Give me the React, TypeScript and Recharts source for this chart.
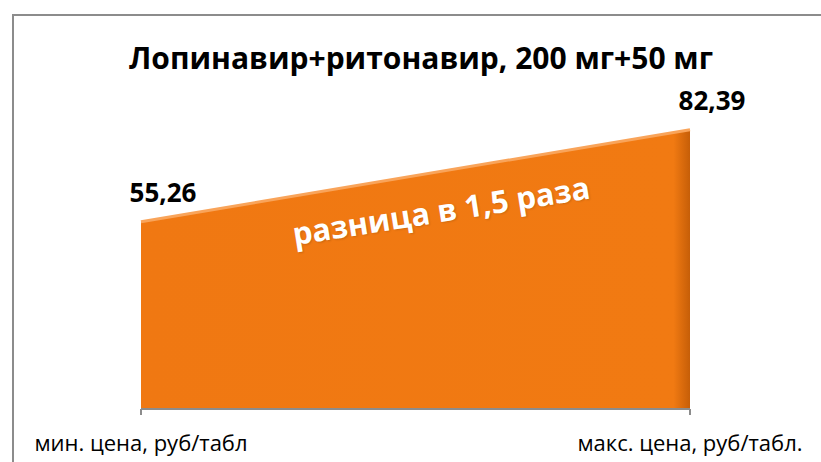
import { AreaChart, Area, XAxis, YAxis, LabelList } from "recharts"

const categories = ["мин. цена, руб/табл", "макс. цена, руб/табл."]
const prices = [55.26, 82.39]
const priceLabels = ["55,26", "82,39"]

const data = categories.map((name, i) => ({ name, price: prices[i], label: priceLabels[i] }))

const FONT = "'Open Sans', 'Noto Sans', sans-serif"

function ValueLabel(props: any) {
  const { x, y, index } = props
  return (
    <text
      x={x + 22}
      y={y - 30}
      textAnchor="middle"
      dominantBaseline="central"
      fontFamily={FONT}
      fontWeight={700}
      fontSize={26}
      fill="#000"
    >
      {priceLabels[index]}
    </text>
  )
}

export default function App() {
  return (
    <div
      style={{
        position: "absolute",
        left: 0,
        top: 0,
        width: 821,
        height: 462,
        overflow: "hidden",
        background: "#fff",
        fontFamily: FONT,
      }}
    >
      {/* chart frame */}
      <div
        style={{
          position: "absolute",
          left: 12,
          top: 14,
          width: 840,
          height: 480,
          border: "2px solid #8c8c8c",
        }}
      />
      <div
        style={{
          position: "absolute",
          left: 0,
          width: 842,
          top: 39,
          textAlign: "center",
          fontWeight: 700,
          fontSize: 30,
          lineHeight: "38px",
          color: "#000",
        }}
      >
        Лопинавир+ритонавир, 200 мг+50 мг
      </div>
      <div style={{ position: "absolute", left: 0, top: 0 }}>
        <AreaChart
          width={821}
          height={462}
          data={data}
          margin={{ top: 70, right: 131, left: 141, bottom: 23 }}
        >
          <defs>
            <linearGradient id="orangeFill" x1="0" y1="0" x2="1" y2="0">
              <stop offset="0%" stopColor="#F07812" />
              <stop offset="97%" stopColor="#F17A12" />
              <stop offset="100%" stopColor="#C65E08" />
            </linearGradient>
          </defs>
          <XAxis
            dataKey="name"
            interval={0}
            height={30}
            padding={{ left: 0, right: 0 }}
            axisLine={{ stroke: "#8c8c8c", strokeWidth: 2 }}
            tickLine={{ stroke: "#8c8c8c", strokeWidth: 2 }}
            tickSize={6}
            tick={{ fill: "#000", fontSize: 22, fontFamily: FONT }}
            tickMargin={20}
          />
          <YAxis hide domain={[0, 100]} />
          <Area
            type="linear"
            dataKey="price"
            stroke="#F9A45A"
            strokeWidth={3}
            fill="url(#orangeFill)"
            fillOpacity={1}
            isAnimationActive={false}
          >
            <LabelList dataKey="label" content={<ValueLabel />} />
          </Area>
        </AreaChart>
      </div>
      <div
        style={{
          position: "absolute",
          left: 441,
          top: 210,
          transform: "translate(-50%, -50%) rotate(-9deg)",
          whiteSpace: "nowrap",
          color: "#fff",
          fontWeight: 700,
          fontSize: 31,
          textShadow: "1px 1px 2px rgba(0,0,0,0.15)",
        }}
      >
        разница в 1,5 раза
      </div>
    </div>
  )
}
